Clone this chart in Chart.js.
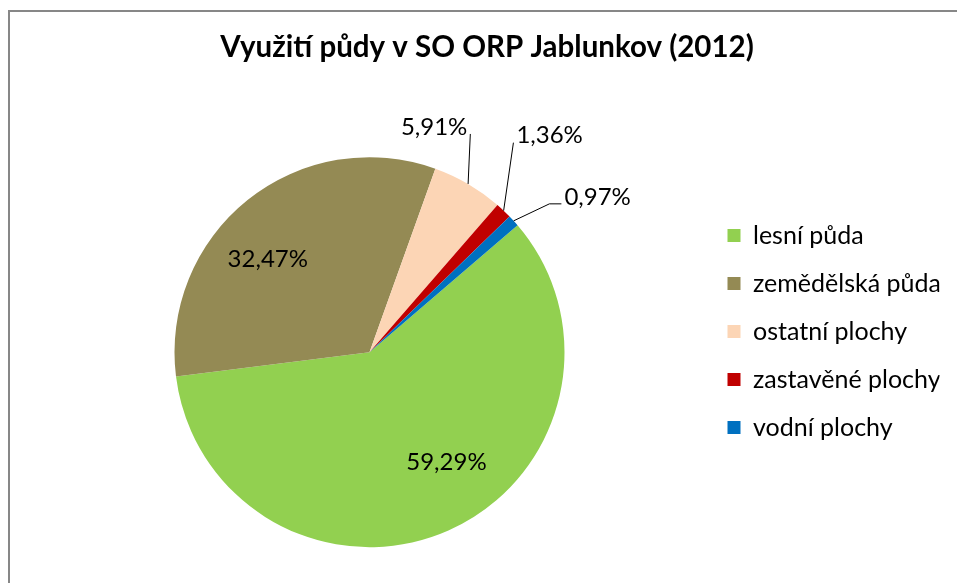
<!DOCTYPE html>
<html>
<head>
<meta charset="utf-8">
<script src="https://cdn.jsdelivr.net/npm/chart.js@4/dist/chart.umd.min.js"></script>
<style>
  html, body { margin: 0; padding: 0; background: #fff; overflow: hidden; width: 957px; height: 583px; }
  #frame { position: absolute; left: 8px; top: 10px; width: 1000px; height: 700px; border: 2px solid #878787; box-sizing: border-box; }
  #c { position: absolute; left: 0; top: 0; }
</style>
</head>
<body>
<div id="frame"></div>
<canvas id="c" width="957" height="583"></canvas>
<script>
const categories = ['lesní půda', 'zemědělská půda', 'ostatní plochy', 'zastavěné plochy', 'vodní plochy'];
const shares = [59.29, 32.47, 5.91, 1.36, 0.97];
const colors = ['#92D050', '#948A54', '#FCD5B5', '#C00000', '#0070C0'];

// where each value label sits: inside slices as a fraction of the radius,
// outside ones as an offset from the slice edge, with a leader line
const labelPlace = [
  { inside: 0.69, turn: -11 },
  { inside: 0.705, turn: -9 },
  { dx: -34, dy: -57, elbow: 0 },
  { dx: 46, dy: -75, elbow: 0 },
  { dx: 84, dy: -24, elbow: 12 }
];

const fmt = v => v.toFixed(2).replace('.', ',') + '%';

const valueLabels = {
  id: 'valueLabels',
  afterDatasetsDraw(chart) {
    const ctx = chart.ctx;
    const meta = chart.getDatasetMeta(0);
    ctx.save();
    ctx.font = '24px Lato';
    ctx.fillStyle = '#000';
    ctx.strokeStyle = '#000';
    ctx.lineWidth = 1;
    ctx.textAlign = 'center';
    ctx.textBaseline = 'middle';
    meta.data.forEach((arc, i) => {
      const p = arc.getProps(['x', 'y', 'startAngle', 'endAngle', 'outerRadius'], true);
      const mid = (p.startAngle + p.endAngle) / 2;
      const pl = labelPlace[i];
      const txt = fmt(shares[i]);
      if (pl.inside) {
        const a = mid + pl.turn * Math.PI / 180;
        ctx.fillText(txt, p.x + Math.cos(a) * p.outerRadius * pl.inside, p.y + Math.sin(a) * p.outerRadius * pl.inside);
        return;
      }
      const ex = p.x + Math.cos(mid) * p.outerRadius;
      const ey = p.y + Math.sin(mid) * p.outerRadius;
      const tx = ex + pl.dx, ty = ey + pl.dy;
      const w = ctx.measureText(txt).width;
      const cx = pl.dx < 0 ? tx + w / 2 + 3 : tx - w / 2 - 3;
      const cy = ty + 7;
      ctx.beginPath();
      ctx.moveTo(ex, ey);
      ctx.lineTo(cx - pl.elbow, cy);
      ctx.lineTo(cx, cy);
      ctx.stroke();
      ctx.fillText(txt, tx, ty);
    });
    ctx.restore();
  }
};

new Chart(document.getElementById('c'), {
  type: 'pie',
  data: {
    labels: categories,
    datasets: [{
      data: shares,
      backgroundColor: colors,
      borderWidth: 0,
      radius: 195
    }]
  },
  options: {
    responsive: false,
    animation: false,
    rotation: 49.4,
    layout: { padding: { left: 34.5, right: 17.5, top: 20, bottom: 1 } },
    plugins: {
      title: {
        display: true,
        text: 'Využití půdy v SO ORP Jablunkov (2012)',
        color: '#000',
        font: { family: 'Lato', size: 29.5, weight: 'bold' },
        padding: { top: 10, bottom: 57 }
      },
      legend: {
        position: 'right',
        align: 'start',
        maxWidth: 235,
        title: { display: true, text: ' ', padding: { top: 138, bottom: 30 }, font: { size: 10 } },
        labels: {
          color: '#000',
          font: { family: 'Lato', size: 25 },
          boxWidth: 13,
          boxHeight: 13,
          padding: 23
        }
      },
      tooltip: { enabled: false }
    }
  },
  plugins: [valueLabels]
});
</script>
</body>
</html>
